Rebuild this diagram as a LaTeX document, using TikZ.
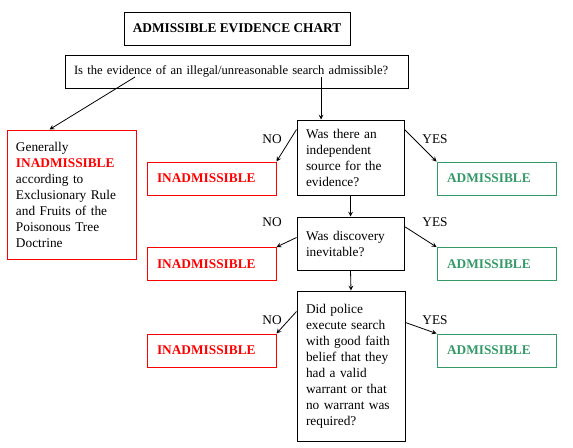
\documentclass[tikz,border=0pt]{standalone}
\usepackage{fontspec}
\setmainfont{Liberation Serif}
\definecolor{okgreen}{RGB}{51,153,102}
\definecolor{nored}{RGB}{255,0,0}
\tikzset{
  box/.style={draw,line width=0.75pt,inner ysep=0pt,align=left,font=\fontsize{10}{12}\selectfont},
  quest/.style={box,inner xsep=6.75pt,text width=66.75pt},
  nobox/.style={box,draw=nored,text=nored,inner xsep=7.5pt,text width=81.75pt,minimum height=24.75pt,font=\fontsize{10}{12}\selectfont\bfseries},
  yesbox/.style={box,draw=okgreen,text=okgreen,inner xsep=7.5pt,text width=74.25pt,minimum height=24.75pt,font=\fontsize{10}{12}\selectfont\bfseries},
  lab/.style={font=\fontsize{10}{12}\selectfont},
}
\begin{document}
\begin{tikzpicture}[>=stealth,x=0.75pt,y=-0.75pt,line width=0.6pt]
		\useasboundingbox (0,0) rectangle (573,447);
		\node[box,align=center,inner xsep=0pt,minimum width=169.5pt,minimum height=24.75pt,font=\fontsize{10}{12}\selectfont\bfseries] (title) at (237,28.5) {ADMISSIBLE EVIDENCE CHART};
		\node[box,inner xsep=6.75pt,text width=243.75pt,minimum height=24.75pt,font=\fontsize{9.45}{12}\selectfont] (search) at (236.5,71.5) {Is the evidence of an illegal/unreasonable search admissible?};
		\node[box,draw=nored,inner xsep=6.75pt,text width=83.25pt,minimum height=96.75pt] (general) at (71.5,194.5) {Generally\\{\color{nored}\bfseries INADMISSIBLE}\\according to\\Exclusionary Rule\\and Fruits of the\\Poisonous Tree\\Doctrine};
		\node[quest,minimum height=56.25pt] (qa) at (350.5,157.5) {Was there an\\independent\\source for the\\evidence?};
		\node[quest,minimum height=39.75pt] (qb) at (350.5,243.5) {Was discovery\\inevitable?};
		\node[quest,text width=67.5pt,minimum height=112.5pt] (qc) at (351,366) {Did police\\execute search\\with good faith\\belief that they\\had a valid\\warrant or that\\no warrant was\\required?};
		\node[nobox] (noa) at (211.5,178.5) {INADMISSIBLE};
		\node[nobox] (nob) at (211.5,264) {INADMISSIBLE};
		\node[nobox] (noc) at (211.5,350.5) {INADMISSIBLE};
		\node[yesbox] (yesa) at (496.5,178.5) {ADMISSIBLE};
		\node[yesbox] (yesb) at (496.5,264) {ADMISSIBLE};
		\node[yesbox] (yesc) at (496.5,350.5) {ADMISSIBLE};
		% arrows
		\coordinate (sl) at (135,77);
		\coordinate (sr) at (321,77);
		\draw[->] (sl) -- ([xshift=-16.5pt]general.north);
		\draw[->] (sr) -- (sr |- qa.north);
		\draw[->] (qa.south) -- (qb.north);
		\draw[->] (qb.south) -- (qc.north);
		\draw[->] ([yshift=-7.5pt]qa.north west) -- (noa.north east);
		\draw[->] ([yshift=-7.5pt]qa.north east) -- (yesa.north west);
		\draw[->] ([yshift=-15.75pt]qb.north west) -- (nob.north east);
		\draw[->] ([yshift=-7.5pt]qb.north east) -- (yesb.north west);
		\draw[->] ([yshift=-15.75pt]qc.north west) -- (noc.north east);
		\draw[->] ([yshift=-24pt]qc.north east) -- (yesc.north west);
		\node[lab] (na) at (272,139) {NO};
		\node[lab] (ya) at (435,139) {YES};
		\node[lab] (nb) at (272,222) {NO};
		\node[lab] (yb) at (435,222) {YES};
		\node[lab] (nc) at (272,320) {NO};
		\node[lab] (yc) at (435,320) {YES};
\end{tikzpicture}
\end{document}
